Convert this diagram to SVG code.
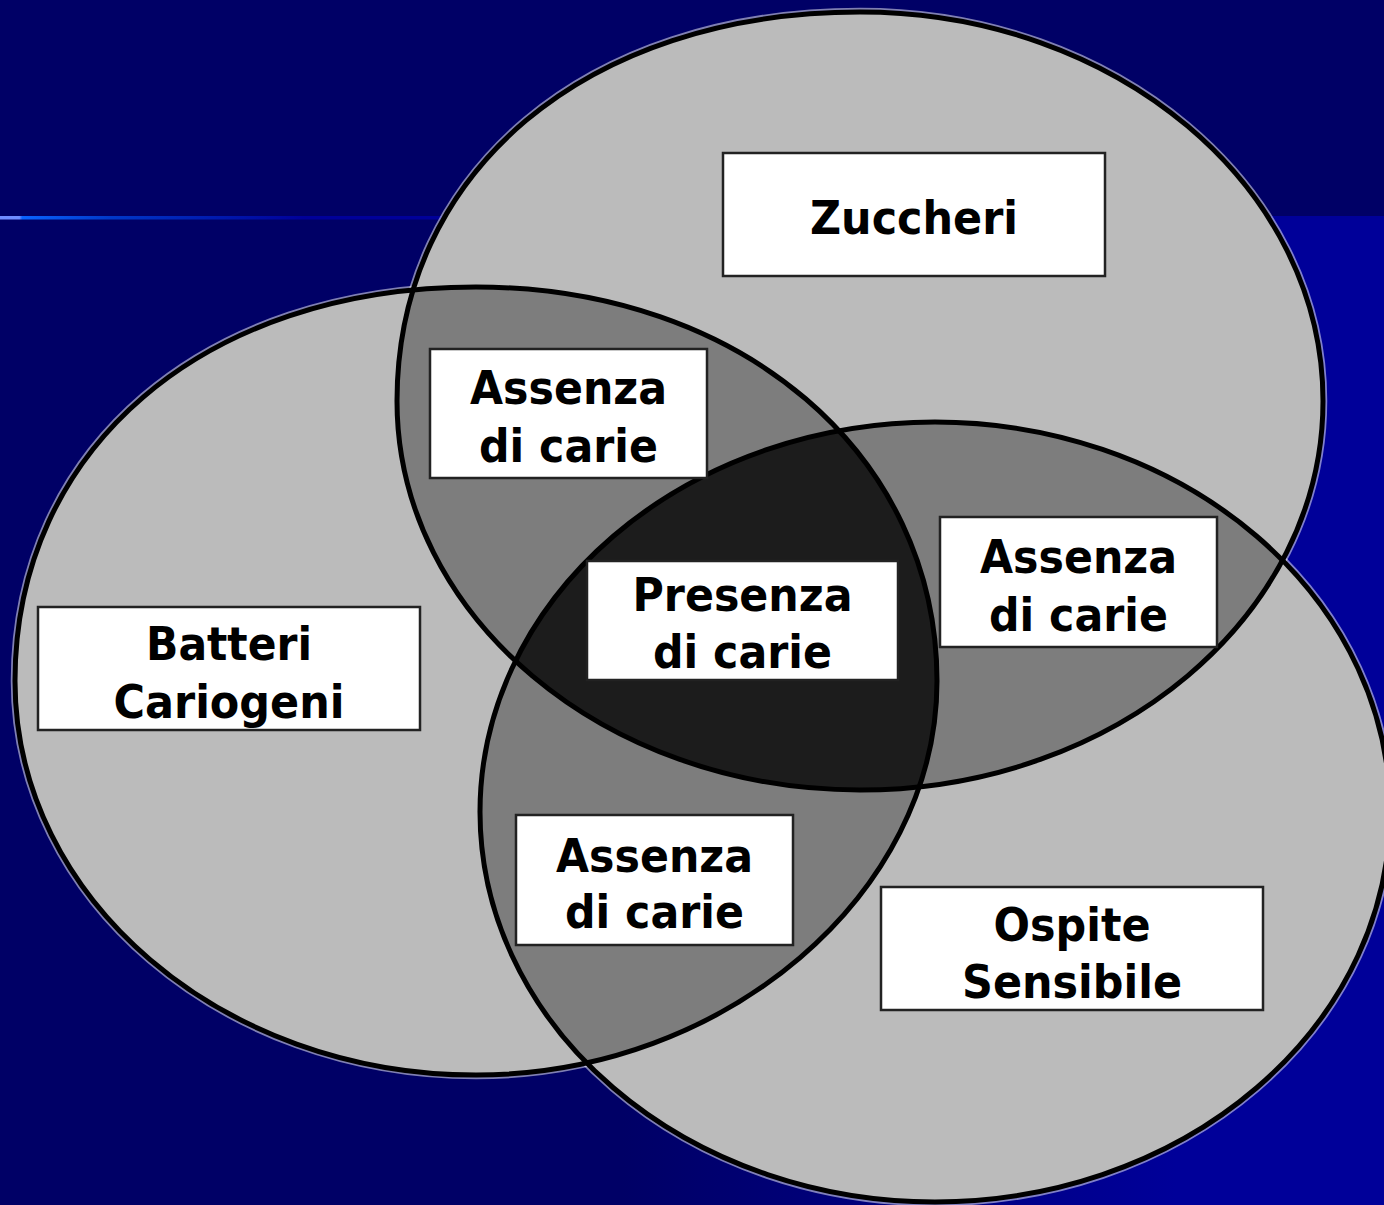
<svg xmlns="http://www.w3.org/2000/svg" xmlns:xlink="http://www.w3.org/1999/xlink" width="1384" height="1205" viewBox="0 0 1384 1205">
  <style>
    .fillL { fill: #bbbbbb; }
    .fillM { fill: #7d7d7d; }
    .fillD { fill: #1c1c1c; }
    .edge { fill: none; stroke: #000000; stroke-width: 5; }
    .halo { fill: none; stroke: #ffffff; stroke-opacity: 0.5; stroke-width: 8.5; }
    .box { fill: #ffffff; stroke: #222222; stroke-width: 2.5; }
    .lbl { font-family: "DejaVu Sans", Verdana, sans-serif; font-weight: bold; font-size: 46px; fill: #000000; text-anchor: middle; }
  </style>
  <defs>
    <linearGradient id="bgLow" x1="0" y1="0" x2="1384" y2="0" gradientUnits="userSpaceOnUse">
      <stop offset="0.45" stop-color="#000066"/>
      <stop offset="0.85" stop-color="#000099"/>
    </linearGradient>
    <linearGradient id="rule" x1="0" y1="0" x2="1384" y2="0" gradientUnits="userSpaceOnUse">
      <stop offset="0" stop-color="#6f8cff"/>
      <stop offset="0.014" stop-color="#6f8cff"/>
      <stop offset="0.016" stop-color="#0a64ff"/>
      <stop offset="0.08" stop-color="#0038c8"/>
      <stop offset="0.22" stop-color="#000099"/>
      <stop offset="1" stop-color="#000099"/>
    </linearGradient>
    <path id="eZ" d="M860,12 C1115.7,12 1323,186.2 1323,401 C1323,615.8 1115.7,790 860,790 C604.3,790 397,615.8 397,401 C397,171.5 586.8,12 860,12 Z"/>
    <path id="eB" d="M476,287 C741.1,287 937,454.4 937,681 C937,893.8 724.9,1075 476,1075 C221.4,1075 15,898.6 15,681 C15,448.5 204,287 476,287 Z"/>
    <ellipse id="eO" cx="935" cy="812" rx="455" ry="390"/>
    <clipPath id="cZ"><use xlink:href="#eZ"/></clipPath>
    <clipPath id="cB"><use xlink:href="#eB"/></clipPath>
  </defs>

  <!-- background -->
  <rect x="0" y="0" width="1384" height="1205" fill="#000066"/>
  <rect x="0" y="219" width="1384" height="986" fill="url(#bgLow)"/>
  <rect x="0" y="216" width="1384" height="3.5" fill="url(#rule)"/>

  <!-- set regions -->
  <g id="regions">
    <use xlink:href="#eZ" class="halo"/>
    <use xlink:href="#eB" class="halo"/>
    <use xlink:href="#eO" class="halo"/>
    <use xlink:href="#eZ" class="fillL"/>
    <use xlink:href="#eB" class="fillL"/>
    <use xlink:href="#eO" class="fillL"/>
    <g clip-path="url(#cZ)">
      <use xlink:href="#eB" class="fillM"/>
      <use xlink:href="#eO" class="fillM"/>
    </g>
    <g clip-path="url(#cB)">
      <use xlink:href="#eO" class="fillM"/>
    </g>
    <g clip-path="url(#cZ)">
      <g clip-path="url(#cB)">
        <use xlink:href="#eO" class="fillD"/>
      </g>
    </g>
  </g>

  <!-- outlines -->
  <g id="connectors">
    <use xlink:href="#eZ" class="edge"/>
    <use xlink:href="#eB" class="edge"/>
    <use xlink:href="#eO" class="edge"/>
  </g>

  <g id="node-zuccheri">
    <rect class="box" x="723" y="153" width="382" height="123"/>
    <text class="lbl" x="914" y="234" textLength="208" lengthAdjust="spacingAndGlyphs">Zuccheri</text>
  </g>
  <g id="node-assenza-1">
    <rect class="box" x="430" y="349" width="277" height="129"/>
    <text class="lbl" x="568.5" y="404" textLength="197" lengthAdjust="spacingAndGlyphs">Assenza</text>
    <text class="lbl" x="568.5" y="462" textLength="179" lengthAdjust="spacingAndGlyphs">di carie</text>
  </g>
  <g id="node-assenza-2">
    <rect class="box" x="940" y="517" width="277" height="130"/>
    <text class="lbl" x="1078.5" y="573" textLength="197" lengthAdjust="spacingAndGlyphs">Assenza</text>
    <text class="lbl" x="1078.5" y="631" textLength="179" lengthAdjust="spacingAndGlyphs">di carie</text>
  </g>
  <g id="node-presenza">
    <rect class="box" x="587" y="561" width="311" height="119"/>
    <text class="lbl" x="742.5" y="611" textLength="220" lengthAdjust="spacingAndGlyphs">Presenza</text>
    <text class="lbl" x="742.5" y="668" textLength="179" lengthAdjust="spacingAndGlyphs">di carie</text>
  </g>
  <g id="node-batteri">
    <rect class="box" x="38" y="607" width="382" height="123"/>
    <text class="lbl" x="229" y="660" textLength="166" lengthAdjust="spacingAndGlyphs">Batteri</text>
    <text class="lbl" x="229" y="718" textLength="231" lengthAdjust="spacingAndGlyphs">Cariogeni</text>
  </g>
  <g id="node-assenza-3">
    <rect class="box" x="516" y="815" width="277" height="130"/>
    <text class="lbl" x="654.5" y="872" textLength="197" lengthAdjust="spacingAndGlyphs">Assenza</text>
    <text class="lbl" x="654.5" y="928" textLength="179" lengthAdjust="spacingAndGlyphs">di carie</text>
  </g>
  <g id="node-ospite">
    <rect class="box" x="881" y="887" width="382" height="123"/>
    <text class="lbl" x="1072" y="941" textLength="157" lengthAdjust="spacingAndGlyphs">Ospite</text>
    <text class="lbl" x="1072" y="998" textLength="220" lengthAdjust="spacingAndGlyphs">Sensibile</text>
  </g>
</svg>
